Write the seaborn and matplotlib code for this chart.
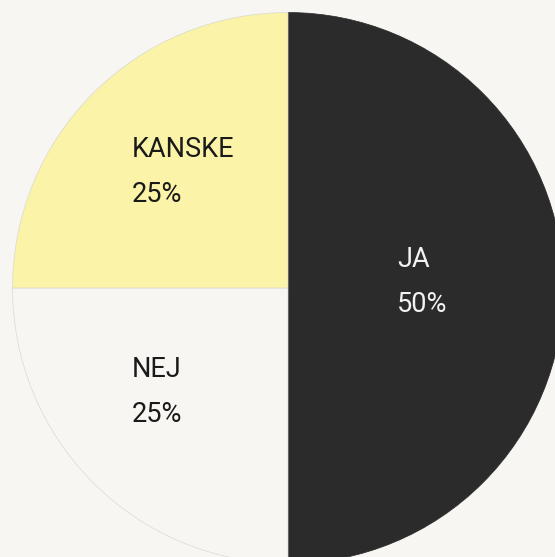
import numpy as np
import matplotlib
matplotlib.use("Agg")
from matplotlib import pyplot as plt
import seaborn as sns

# answers and shares (percent)
labels = ["JA", "NEJ", "KANSKE"]
values = [50, 25, 25]
colors = ["#2b2b2b", "#f7f6f2", "#fbf3a7"]
text_colors = ["#f2f2f2", "#1a1a1a", "#1a1a1a"]

sns.set_theme(style="white")
plt.rcParams["font.family"] = ["Roboto", "DejaVu Sans"]

bg = "#f7f6f2"
fig = plt.figure(figsize=(5.55, 5.57), dpi=100, facecolor=bg)
ax = fig.add_axes([0, 0, 1, 1])
ax.set_facecolor(bg)

wedges, _ = ax.pie(
    values,
    colors=colors,
    startangle=90,
    counterclock=False,
    radius=1,
    wedgeprops={"edgecolor": "#d9d9d6", "linewidth": 0.5},
)
# the dark slice has no visible outline
wedges[0].set_edgecolor(colors[0])

# place each label inside its wedge, left aligned
r_lab = 0.5636
for w, lab, v, tc in zip(wedges, labels, values, text_colors):
    ang = np.deg2rad((w.theta1 + w.theta2) / 2)
    ax.annotate(
        f"{lab}\n{v}%",
        xy=(r_lab * np.cos(ang), r_lab * np.sin(ang)),
        xytext=(-46, 6),
        textcoords="offset pixels",
        ha="left",
        va="center",
        fontsize=19.5,
        fontweight="normal",
        linespacing=1.85,
        color=tc,
    )

ax.set_aspect("auto")
ax.set_xlim(-288 / 275.5, (555 - 288) / 275.5)
ax.set_ylim(-(557 - 288) / 275.5, 288 / 275.5)
ax.axis("off")

fig.savefig("out.png", dpi=100, facecolor=bg)
